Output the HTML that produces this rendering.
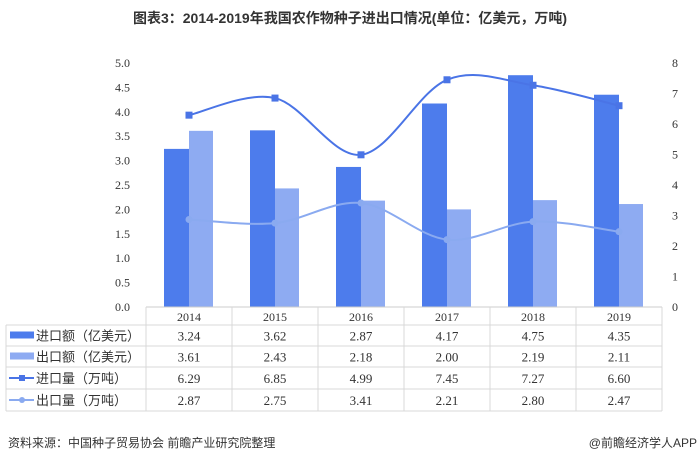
<!DOCTYPE html>
<html><head><meta charset="utf-8">
<style>
body{margin:0;background:#fff;width:700px;height:464px;overflow:hidden;font-family:"Liberation Serif","Noto Serif CJK SC",serif;}
svg text{font-family:"Liberation Serif","Noto Sans CJK SC",serif;}
</style></head><body>
<svg id="c" width="700" height="464" xmlns="http://www.w3.org/2000/svg">
<text x="350" y="23" text-anchor="middle" font-size="14" font-weight="bold" fill="#333" style="font-family:'Liberation Sans','Noto Sans CJK SC',sans-serif">图表3：2014-2019年我国农作物种子进出口情况(单位：亿美元，万吨)</text>
<g id="g"></g>
<text x="8" y="447" font-size="12" fill="#333" style="font-family:'Liberation Sans','Noto Sans CJK SC',sans-serif">资料来源：中国种子贸易协会 前瞻产业研究院整理</text>
<text x="697" y="447" text-anchor="end" font-size="12" fill="#333" style="font-family:'Liberation Sans','Noto Sans CJK SC',sans-serif">@前瞻经济学人APP</text>
</svg>
<script>
const categories=["2014","2015","2016","2017","2018","2019"];
const importValue=[3.24,3.62,2.87,4.17,4.75,4.35];
const exportValue=[3.61,2.43,2.18,2.00,2.19,2.11];
const importVolume=[6.29,6.85,4.99,7.45,7.27,6.60];
const exportVolume=[2.87,2.75,3.41,2.21,2.80,2.47];
const leftTicks=["0.0","0.5","1.0","1.5","2.0","2.5","3.0","3.5","4.0","4.5","5.0"];
const rightTicks=["0","1","2","3","4","5","6","7","8"];
const seriesNames=["进口额（亿美元）","出口额（亿美元）","进口量（万吨）","出口量（万吨）"];

const NS="http://www.w3.org/2000/svg",g=document.getElementById('g');
const X0=146,CW=86,Y0=307,YT=63;
const yL=v=>Y0-(v/5)*(Y0-YT), yR=v=>Y0-(v/8)*(Y0-YT), xc=i=>X0+CW*i+CW/2;
function mk(t,a,p){const e=document.createElementNS(NS,t);for(const k in a)e.setAttribute(k,a[k]);(p||g).appendChild(e);return e;}
leftTicks.forEach(t=>{const e=mk('text',{x:130,y:yL(+t)+4,'text-anchor':'end','font-size':12,fill:'#333'});e.textContent=t;

});
rightTicks.forEach(t=>{const e=mk('text',{x:672,y:yR(+t)+4,'font-size':12,fill:'#333'});e.textContent=t;

});
categories.forEach((c,i)=>{
 let b=mk('rect',{x:xc(i)-25,y:yL(importValue[i]),width:25,height:Y0-yL(importValue[i]),fill:'#4d7cec'});
 
 
 b=mk('rect',{x:xc(i),y:yL(exportValue[i]),width:24,height:Y0-yL(exportValue[i]),fill:'#8eabf2'});
 
 
});
function smooth(pts){let d=`M${pts[0][0]},${pts[0][1]}`;for(let i=0;i<pts.length-1;i++){const p0=pts[i-1]||pts[i],p1=pts[i],p2=pts[i+1],p3=pts[i+2]||p2;
d+=` C${p1[0]+(p2[0]-p0[0])/6},${p1[1]+(p2[1]-p0[1])/6} ${p2[0]-(p3[0]-p1[0])/6},${p2[1]-(p3[1]-p1[1])/6} ${p2[0]},${p2[1]}`;}return d;}
function line(vals,col,name,sq){const pts=vals.map((v,i)=>[xc(i),yR(v)]);
 const p=mk('path',{d:smooth(pts),fill:'none',stroke:col,'stroke-width':2});
 
 
 pts.forEach(q=>{const m=sq?mk('rect',{x:q[0]-3.5,y:q[1]-3.5,width:7,height:7,fill:col}):mk('circle',{cx:q[0],cy:q[1],r:3.5,fill:col});
 
 });}
line(importVolume,'#4a74e6','import-volume',true);
line(exportVolume,'#8aaaf0','export-volume',false);
// table
const rows=[325,346,367,389,411];
mk('line',{x1:X0,y1:Y0,x2:X0+CW*6,y2:Y0,stroke:'#ccc'});
rows.forEach(y=>mk('line',{x1:6,y1:y,x2:X0+CW*6,y2:y,stroke:'#d8d8d8'}));
mk('line',{x1:6,y1:325,x2:6,y2:411,stroke:'#d8d8d8'});
for(let i=0;i<=6;i++)mk('line',{x1:X0+CW*i,y1:Y0,x2:X0+CW*i,y2:411,stroke:'#d8d8d8'});
categories.forEach((c,i)=>{const e=mk('text',{x:xc(i),y:321,'text-anchor':'middle','font-size':12,fill:'#333'});e.textContent=c;

});
const all=[importValue,exportValue,importVolume,exportVolume],cols=['#4d7cec','#8eabf2','#4a74e6','#8aaaf0'];
all.forEach((arr,r)=>{const yc=(rows[r]+rows[r+1])/2;
 if(r<2)mk('rect',{x:10,y:yc-4,width:24,height:7,fill:cols[r]});
 else{mk('line',{x1:9,y1:yc,x2:34,y2:yc,stroke:cols[r],'stroke-width':2});
  if(r==2)mk('rect',{x:19,y:yc-3,width:6,height:6,fill:cols[r]});else mk('circle',{cx:22,cy:yc,r:3,fill:cols[r]});}
 const lt=mk('text',{x:36,y:yc+5,'font-size':13,fill:'#333',style:"font-family:'Liberation Sans','Noto Sans CJK SC',sans-serif"});lt.textContent=seriesNames[r];
 
 
 arr.forEach((v,i)=>{const e=mk('text',{x:xc(i),y:yc+5,'text-anchor':'middle','font-size':13,fill:'#333'});e.textContent=v.toFixed(2);
 
 });});
</script>
</body></html>
